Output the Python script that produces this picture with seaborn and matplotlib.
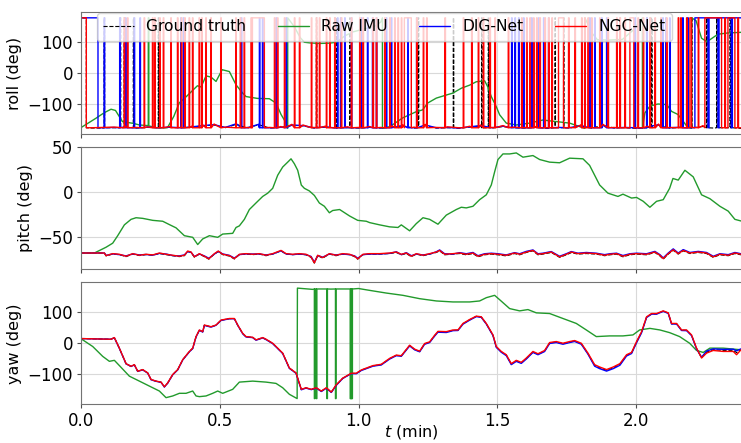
import numpy as np
import pandas as pd
import matplotlib
matplotlib.use("Agg")
import matplotlib.pyplot as plt
import seaborn as sns

# time in minutes, angles in degrees

# ---------------- roll ----------------
# floor level of the predicted / true roll (it sits near -180 and wraps to +180 often)
roll_base_t = [0.00, 0.04, 0.08, 0.12, 0.16, 0.20, 0.24, 0.28, 0.32, 0.36,
               0.40, 0.44, 0.48, 0.52, 0.56, 0.60, 0.64, 0.68, 0.72, 0.76,
               0.80, 0.84, 0.88, 0.92, 0.96, 1.00, 1.04, 1.08, 1.12, 1.16,
               1.20, 1.24, 1.28, 1.32, 1.36, 1.40, 1.44, 1.48, 1.52, 1.56,
               1.60, 1.64, 1.68, 1.72, 1.76, 1.80, 1.84, 1.88, 1.92, 1.96,
               2.00, 2.04, 2.08, 2.12, 2.16, 2.20, 2.24, 2.28, 2.32, 2.377]
roll_ngc_base = [-177, -177, -176, -175, -172, -176, -174, -177, -173, -176,
                 -172, -168, -165, -175, -161, -176, -164, -176, -173, -166,
                 -168, -176, -172, -177, -174, -176, -173, -176, -171, -168,
                 -175, -166, -176, -174, -177, -172, -168, -176, -170, -175,
                 -176, -173, -177, -174, -176, -168, -175, -166, -176, -174,
                 -177, -172, -165, -176, -173, -176, -170, -176, -174, -177]
roll_dig_base = [-177, -177, -177, -176, -174, -177, -175, -177, -175, -177,
                 -174, -170, -167, -176, -164, -177, -166, -177, -175, -168,
                 -170, -177, -174, -178, -176, -177, -175, -177, -173, -170,
                 -177, -168, -177, -176, -178, -174, -170, -177, -172, -176,
                 -177, -175, -178, -176, -177, -170, -177, -168, -177, -176,
                 -178, -174, -167, -177, -175, -177, -172, -177, -176, -178]
roll_gt_base = [-178, -178, -178, -177, -175, -178, -176, -178, -176, -178,
                -175, -171, -168, -177, -166, -178, -167, -178, -176, -169,
                -171, -178, -175, -179, -177, -178, -176, -178, -174, -171,
                -178, -169, -178, -177, -179, -175, -171, -178, -173, -177,
                -178, -176, -179, -177, -178, -171, -178, -169, -178, -177,
                -179, -175, -168, -178, -176, -178, -173, -178, -177, -179]

# instants where the angle wrapped to +180 (single samples) and longer wrapped stretches
roll_ngc_spikes = [0.156, 0.168, 0.228, 0.258, 0.266, 0.284, 0.297, 0.324, 0.348, 0.362,
                   0.374, 0.390, 0.402, 0.426, 0.435, 0.450, 0.468, 0.504, 0.558, 0.574,
                   0.588, 0.613, 0.697, 0.708, 0.733, 0.769, 0.787, 0.830, 0.848, 0.859,
                   0.884, 0.896, 0.914, 0.938, 0.974, 1.004, 1.016, 1.052, 1.064, 1.094,
                   1.112, 1.130, 1.142, 1.154, 1.209, 1.233, 1.245, 1.311, 1.377, 1.407,
                   1.431, 1.449, 1.473, 1.491, 1.539, 1.587, 1.605, 1.617, 1.630, 1.641,
                   1.653, 1.671, 1.684, 1.696, 1.756, 1.779, 1.803, 1.814, 1.826, 1.839,
                   1.868, 1.898, 1.929, 1.941, 1.959, 2.006, 2.025, 2.049, 2.067, 2.088,
                   2.109, 2.151, 2.160, 2.181, 2.223, 2.319, 2.366]
roll_ngc_blocks = [(0.0, 0.020), (0.618, 0.661), (1.165, 1.190), (1.720, 1.738),
                   (1.977, 1.991), (2.193, 2.199), (2.247, 2.307), (2.330, 2.355)]
roll_dig_spikes = [0.084, 0.140, 0.161, 0.192, 0.213, 0.360, 0.369, 0.578, 0.643, 0.654,
                   0.703, 0.739, 0.924, 0.935, 0.950, 0.974, 1.010, 1.032, 1.050, 1.064,
                   1.100, 1.118, 1.177, 1.209, 1.551, 1.563, 1.576, 1.594, 1.623, 1.648,
                   1.666, 1.684, 1.832, 1.850, 1.875, 1.893, 1.995, 2.037, 2.095, 2.106,
                   2.120, 2.167, 2.185]
roll_dig_blocks = [(0.0, 0.062), (2.211, 2.258), (2.262, 2.294), (2.298, 2.342), (2.346, 2.40)]
roll_gt_spikes = [0.084, 0.142, 0.156, 0.189, 0.279, 0.360, 0.848, 0.914, 0.921, 0.968,
                  1.215, 1.341, 1.443, 1.467, 1.707, 1.738, 1.941, 2.037, 2.049, 2.055,
                  2.199, 2.253, 2.289, 2.337, 2.343]
roll_gt_blocks = [(0.0, 0.020)]

roll_raw_t = [0.000, 0.055, 0.085, 0.109, 0.125, 0.150, 0.190, 0.211, 0.240, 0.243,
              0.2431, 0.245, 0.2451, 0.272, 0.312, 0.335, 0.355, 0.380, 0.420, 0.433,
              0.451, 0.469, 0.487, 0.509, 0.535, 0.559, 0.582, 0.595, 0.636, 0.679,
              0.703, 0.721, 0.739, 0.745, 0.7451, 0.769, 0.790, 0.805, 0.823, 0.859,
              0.895, 0.920, 0.950, 0.978, 1.029, 1.058, 1.080, 1.086, 1.0861, 1.112,
              1.159, 1.208, 1.231, 1.249, 1.280, 1.316, 1.339, 1.370, 1.400, 1.424,
              1.454, 1.465, 1.478, 1.496, 1.508, 1.532, 1.568, 1.616, 1.663, 1.712,
              1.760, 1.808, 1.815, 1.8151, 1.840, 1.860, 1.900, 1.950, 1.990, 2.022,
              2.0221, 2.031, 2.049, 2.078, 2.110, 2.127, 2.150, 2.168, 2.181, 2.199,
              2.1991, 2.215, 2.235, 2.253, 2.265, 2.294, 2.330, 2.377]
roll_raw = [-177, -146, -128, -117, -121, -157, -163, -168, -170, -170,
            179, 179, -171, -177, -177, -140, -96, -76, -41, -45,
            -9, -13, -27, 11, 5, -38, -64, -76, -82, -83,
            -97, -134, -161, -179, 179, 150, 115, 100, 98, 96,
            97, 100, 120, 133, 145, 152, 165, 179, -179, -174,
            -145, -125, -119, -97, -81, -71, -65, -49, -39, -28,
            -25, -44, -76, -109, -135, -162, -168, -162, -152, -157,
            -162, -177, -179, 179, 130, 108, 107, 109, 140, 179,
            -179, -129, -107, -100, -102, -124, -134, -155, -171, -179,
            179, 170, 113, 102, 108, 126, 130, 132]

# ---------------- pitch ----------------
pitch_t = [0.000, 0.085, 0.091, 0.115, 0.139, 0.163, 0.187, 0.211, 0.235, 0.259,
           0.283, 0.307, 0.331, 0.355, 0.373, 0.385, 0.397, 0.409, 0.427, 0.445,
           0.461, 0.481, 0.495, 0.511, 0.535, 0.553, 0.571, 0.595, 0.619, 0.643,
           0.667, 0.691, 0.721, 0.739, 0.763, 0.787, 0.811, 0.829, 0.841, 0.853,
           0.871, 0.895, 0.919, 0.943, 0.968, 0.986, 0.997, 1.016, 1.040, 1.076,
           1.112, 1.136, 1.154, 1.172, 1.190, 1.208, 1.232, 1.256, 1.280, 1.292,
           1.310, 1.340, 1.364, 1.388, 1.412, 1.430, 1.454, 1.478, 1.502, 1.532,
           1.562, 1.580, 1.604, 1.628, 1.646, 1.664, 1.694, 1.724, 1.748, 1.766,
           1.790, 1.820, 1.856, 1.886, 1.905, 1.929, 1.952, 1.977, 2.001, 2.037,
           2.067, 2.085, 2.097, 2.115, 2.133, 2.151, 2.169, 2.193, 2.223, 2.253,
           2.277, 2.301, 2.331, 2.355, 2.377]
pitch_ngc = [-67.4, -67.4, -70.3, -68.1, -68.8, -71.0, -68.1, -69.9, -68.8, -69.5,
             -67.4, -68.8, -69.9, -71.0, -69.9, -65.2, -66.3, -71.7, -68.1, -71.0,
             -73.9, -68.1, -65.2, -68.8, -70.3, -73.6, -68.8, -68.1, -68.8, -68.1,
             -69.9, -68.1, -64.5, -68.1, -68.8, -68.1, -68.8, -71.7, -78.3, -69.9,
             -72.5, -68.1, -69.9, -68.1, -68.8, -71.0, -73.9, -68.8, -68.1, -68.1,
             -67.4, -66.3, -68.8, -67.4, -71.0, -68.1, -69.9, -68.1, -66.3, -64.5,
             -68.8, -68.1, -67.4, -68.8, -67.4, -71.0, -68.8, -68.1, -68.8, -69.9,
             -67.4, -68.8, -66.3, -64.5, -68.8, -68.1, -66.3, -71.7, -68.8, -66.3,
             -68.1, -67.4, -68.1, -69.9, -68.8, -68.1, -71.0, -68.8, -68.1, -68.8,
             -66.3, -69.9, -73.6, -68.1, -63.8, -68.1, -64.5, -67.4, -66.3, -67.4,
             -71.7, -68.8, -69.9, -67.4, -68.8]
pitch_dig = [-67.4, -67.4, -70.0, -68.4, -69.2, -70.6, -68.4, -69.5, -69.0, -69.8,
             -67.8, -68.5, -70.2, -70.6, -69.5, -65.8, -66.6, -71.3, -68.5, -70.6,
             -73.2, -68.6, -65.6, -68.4, -70.0, -73.0, -69.2, -68.4, -68.5, -68.5,
             -69.5, -68.5, -65.0, -68.4, -69.2, -68.5, -69.2, -71.2, -77.5, -70.2,
             -72.0, -68.5, -69.5, -68.6, -69.2, -70.6, -73.2, -69.2, -68.6, -68.5,
             -67.8, -66.0, -69.2, -67.0, -70.4, -68.6, -69.5, -68.6, -66.0, -64.0,
             -68.2, -68.6, -67.0, -68.2, -66.8, -70.4, -68.2, -67.6, -68.2, -69.5,
             -67.0, -68.2, -65.6, -64.0, -68.2, -67.6, -65.8, -71.0, -68.2, -65.8,
             -67.6, -66.8, -67.6, -69.2, -68.2, -67.6, -70.2, -68.2, -67.6, -68.2,
             -65.6, -69.2, -72.8, -67.4, -62.8, -67.4, -63.6, -66.8, -65.6, -66.8,
             -71.0, -68.2, -69.2, -66.8, -68.2]
pitch_gt = [-67.4, -67.4, -70.6, -68.6, -69.2, -71.4, -68.6, -70.2, -69.2, -69.8,
            -68.0, -69.2, -70.4, -71.4, -70.4, -65.8, -66.8, -72.0, -68.6, -71.4,
            -74.2, -68.6, -65.8, -69.2, -70.8, -74.0, -69.2, -68.6, -69.2, -68.6,
            -70.4, -68.6, -65.0, -68.6, -69.2, -68.6, -69.4, -72.2, -78.6, -70.4,
            -73.0, -68.6, -70.4, -68.6, -69.2, -71.4, -74.2, -69.2, -68.6, -68.6,
            -68.0, -66.8, -69.4, -68.0, -71.4, -68.6, -70.4, -68.6, -66.8, -65.0,
            -69.4, -68.6, -68.0, -69.4, -68.0, -71.6, -69.4, -68.6, -69.4, -70.6,
            -68.0, -69.4, -66.8, -65.0, -69.4, -68.6, -66.8, -72.2, -69.4, -67.0,
            -68.6, -68.0, -68.6, -70.4, -69.4, -68.6, -71.6, -69.4, -68.6, -69.4,
            -66.8, -70.6, -74.2, -68.6, -64.4, -68.6, -65.0, -68.0, -66.8, -68.0,
            -72.2, -69.4, -70.4, -68.0, -69.4]

pitch_raw_t = [0.000, 0.049, 0.091, 0.115, 0.133, 0.157, 0.181, 0.199, 0.223, 0.259,
               0.295, 0.319, 0.343, 0.373, 0.403, 0.421, 0.439, 0.463, 0.493, 0.511,
               0.547, 0.559, 0.571, 0.589, 0.607, 0.631, 0.655, 0.673, 0.691, 0.709,
               0.727, 0.745, 0.757, 0.769, 0.781, 0.794, 0.805, 0.823, 0.841, 0.859,
               0.877, 0.895, 0.907, 0.932, 0.950, 0.968, 0.997, 1.028, 1.040, 1.076,
               1.112, 1.142, 1.154, 1.184, 1.208, 1.232, 1.256, 1.286, 1.316, 1.352,
               1.370, 1.388, 1.412, 1.436, 1.460, 1.478, 1.490, 1.502, 1.520, 1.544,
               1.568, 1.592, 1.628, 1.652, 1.688, 1.724, 1.760, 1.808, 1.832, 1.868,
               1.898, 1.934, 1.952, 1.983, 2.001, 2.025, 2.049, 2.073, 2.097, 2.120,
               2.132, 2.151, 2.175, 2.205, 2.235, 2.265, 2.301, 2.331, 2.355, 2.377]
pitch_raw = [-67.4, -67.4, -61.0, -56.5, -48.2, -36.2, -30.1, -28.3, -29.0, -31.2,
             -32.2, -35.9, -39.5, -48.2, -50.0, -58.0, -51.8, -48.2, -50.0, -46.4,
             -45.6, -39.1, -37.3, -30.1, -19.2, -11.9, -4.7, -1.1, 4.3, 18.8,
             27.9, 33.3, 37.0, 31.5, 24.3, 7.9, 4.3, 1.4, -3.6, -12.0,
             -15.6, -22.8, -20.3, -19.2, -22.8, -26.4, -31.2, -32.2, -33.7, -36.2,
             -38.4, -39.1, -36.2, -42.8, -34.8, -28.3, -30.1, -35.5, -25.4, -19.2,
             -16.7, -17.4, -15.6, -8.3, -2.9, 8.0, 22.5, 36.2, 42.4, 42.4,
             43.5, 38.8, 40.6, 36.2, 33.3, 32.6, 37.7, 37.0, 29.7, 8.0,
             -1.1, -4.7, -2.2, -6.5, -5.8, -10.1, -16.7, -10.1, -8.3, 4.3,
             15.2, 13.4, 24.3, 17.0, -2.9, -7.2, -15.6, -21.0, -30.1, -31.9]

# ---------------- yaw ----------------
yaw_t = [0.000, 0.109, 0.121, 0.139, 0.163, 0.181, 0.193, 0.205, 0.223, 0.241,
         0.253, 0.271, 0.289, 0.301, 0.313, 0.331, 0.349, 0.367, 0.391, 0.403,
         0.415, 0.427, 0.439, 0.445, 0.469, 0.487, 0.505, 0.535, 0.553, 0.565,
         0.583, 0.595, 0.619, 0.631, 0.655, 0.667, 0.691, 0.709, 0.727, 0.751,
         0.775, 0.794, 0.811, 0.830, 0.848, 0.866, 0.884, 0.902, 0.920, 0.943,
         0.974, 0.992, 1.010, 1.052, 1.082, 1.112, 1.136, 1.154, 1.184, 1.202,
         1.220, 1.238, 1.256, 1.274, 1.286, 1.316, 1.340, 1.358, 1.376, 1.400,
         1.424, 1.442, 1.460, 1.484, 1.496, 1.514, 1.532, 1.550, 1.568, 1.586,
         1.604, 1.628, 1.646, 1.670, 1.688, 1.712, 1.736, 1.760, 1.778, 1.802,
         1.826, 1.850, 1.868, 1.893, 1.917, 1.941, 1.965, 1.983, 2.001, 2.019,
         2.037, 2.055, 2.073, 2.097, 2.115, 2.127, 2.145, 2.163, 2.181, 2.199,
         2.217, 2.235, 2.253, 2.277, 2.313, 2.349, 2.361, 2.377]
yaw_ngc = [15.4, 13.2, 18.6, -15.6, -65.8, -74.4, -69.0, -90.4, -85.0, -95.8,
           -117.0, -122.4, -125.6, -140.7, -127.9, -101.0, -85.0, -52.9, -26.3, -15.6,
           21.8, 43.3, 37.8, 59.3, 53.8, 59.3, 75.3, 80.4, 80.4, 59.3,
           32.4, 21.8, 19.6, 11.2, 18.6, 13.2, 0.3, -15.6, -31.7, -79.8,
           -95.8, -149.0, -143.9, -149.0, -143.9, -154.5, -143.9, -157.7, -134.3, -112.8,
           -96.8, -96.8, -86.2, -72.1, -67.9, -48.7, -38.1, -40.1, -6.1, -18.9,
           -25.3, -0.6, 4.8, 26.0, 38.8, 37.8, 43.3, 43.3, 64.4, 77.2,
           88.1, 85.9, 64.4, 27.2, -10.3, -26.3, -36.9, -65.8, -55.1, -61.5,
           -47.6, -26.3, -33.8, -23.1, 2.6, 5.8, 0.3, 5.8, 9.0, 0.3,
           -31.7, -69.0, -76.6, -85.0, -76.6, -65.8, -36.9, -29.5, 5.8, 37.8,
           85.9, 96.5, 96.5, 105.1, 98.7, 64.4, 64.4, 43.3, 43.3, 27.2,
           -15.6, -47.6, -31.7, -23.1, -26.3, -26.3, -36.9, -20.9]
yaw_dig = [15.4, 13.2, 18.0, -16.5, -66.5, -75.0, -70.0, -91.0, -86.0, -96.5,
           -118.0, -123.0, -126.5, -141.5, -129.0, -102.0, -86.0, -54.0, -27.5, -17.0,
           20.5, 42.0, 36.5, 58.0, 52.5, 58.5, 74.0, 79.5, 79.5, 58.5,
           31.0, 20.5, 18.5, 10.0, 17.5, 12.0, -1.0, -17.0, -33.0, -81.0,
           -97.0, -150.5, -145.0, -150.0, -145.0, -156.0, -145.5, -159.0, -136.0, -114.0,
           -98.0, -98.5, -88.0, -74.0, -70.0, -51.0, -40.0, -42.0, -8.5, -21.0,
           -27.5, -3.0, 2.5, 23.5, 36.0, 35.0, 41.0, 41.5, 62.0, 75.0,
           86.5, 84.0, 62.5, 25.0, -13.0, -29.0, -40.0, -69.0, -58.5, -65.0,
           -51.0, -29.5, -37.0, -26.5, -0.5, 2.5, -3.0, 2.5, 6.0, -3.0,
           -35.0, -74.0, -82.0, -90.0, -82.0, -71.0, -41.0, -33.0, 2.0, 34.0,
           83.5, 94.5, 94.5, 103.5, 97.0, 62.5, 62.5, 41.5, 41.0, 25.0,
           -18.0, -45.0, -25.0, -18.0, -19.5, -19.0, -24.0, -18.0]
yaw_gt = [15.4, 13.2, 18.3, -16.0, -66.0, -74.8, -69.5, -90.8, -85.5, -96.0,
          -117.5, -122.8, -126.0, -141.0, -128.5, -101.5, -85.5, -53.5, -27.0, -16.2,
          21.0, 42.8, 37.2, 58.8, 53.2, 58.8, 74.8, 80.0, 80.0, 58.8,
          31.8, 21.2, 19.0, 10.6, 18.0, 12.6, -0.3, -16.2, -32.3, -80.4,
          -96.4, -149.6, -144.5, -149.6, -144.5, -155.2, -144.6, -158.3, -135.0, -113.4,
          -97.4, -97.6, -87.0, -73.0, -69.0, -49.8, -39.0, -41.0, -7.2, -20.0,
          -26.4, -1.8, 3.6, 24.8, 37.4, 36.4, 42.2, 42.4, 63.2, 76.0,
          87.2, 85.0, 63.4, 26.2, -11.6, -27.6, -38.4, -67.4, -56.8, -63.2,
          -49.2, -28.0, -35.4, -24.8, 1.0, 4.2, -1.4, 4.2, 7.6, -1.4,
          -33.4, -71.5, -79.3, -87.5, -79.3, -68.4, -39.0, -31.2, 4.0, 36.0,
          84.6, 95.4, 95.4, 104.2, 97.8, 63.4, 63.4, 42.4, 42.2, 26.2,
          -16.8, -46.4, -28.4, -20.5, -22.8, -22.5, -30.0, -19.5]

yaw_raw_t = [0.000, 0.043, 0.079, 0.103, 0.121, 0.139, 0.175, 0.211, 0.247, 0.283,
             0.307, 0.331, 0.355, 0.379, 0.403, 0.415, 0.427, 0.451, 0.475, 0.493,
             0.511, 0.547, 0.571, 0.619, 0.667, 0.703, 0.727, 0.751, 0.779, 0.780,
             0.835, 0.900, 0.960, 1.000, 1.040, 1.100, 1.160, 1.220, 1.280, 1.340,
             1.400, 1.436, 1.460, 1.490, 1.508, 1.544, 1.580, 1.610, 1.640, 1.688,
             1.736, 1.784, 1.820, 1.856, 1.904, 1.952, 1.988, 2.012, 2.049, 2.085,
             2.120, 2.156, 2.192, 2.217, 2.241, 2.265, 2.313, 2.377]
yaw_raw = [15.4, -10.3, -42.3, -58.3, -55.1, -72.1, -106.4, -122.4, -138.5, -154.5,
           -176.0, -170.5, -161.9, -161.9, -154.5, -170.5, -172.7, -170.5, -161.9, -154.5,
           -161.9, -149.0, -125.6, -122.4, -125.6, -129.8, -143.9, -165.1, -179.0, 178.8,
           174.7, 175.6, 176.0, 177.5, 171.5, 162.8, 155.4, 144.6, 137.2, 134.0,
           134.0, 137.2, 147.8, 155.4, 141.3, 112.5, 105.1, 109.3, 98.7, 96.5,
           80.4, 64.4, 43.3, 21.8, 24.0, 24.0, 27.2, 43.3, 48.4, 43.3,
           34.6, 21.8, 0.3, -23.1, -29.5, -15.6, -15.6, -20.9]
# raw yaw briefly wraps back to -180 at these instants
yaw_raw_dips = [0.841, 0.848, 0.886, 0.917, 0.970, 0.973, 0.976]

series_names = ["Ground truth", "Raw IMU", "DIG-Net", "NGC-Net"]
colors = {"Ground truth": "black", "Raw IMU": "#229a2c", "DIG-Net": "#0000ff", "NGC-Net": "#ff0000"}


def wrapped(base_t, base_v, spikes, blocks, floor=-177, top=179, w=0.002):
    # roll sitting near -180 that jumps to +180 during the listed spans
    spans = [(s, s + w) for s in spikes] + list(blocks)
    pts = [(t, v) for t, v in zip(base_t, base_v)
           if not any(a - 1e-9 <= t <= b + 1e-9 for a, b in spans)]
    for a, b in spans:
        pts += [(a, floor), (a + 1e-6, top), (b - 1e-6, top), (b, floor)]
    pts.sort(key=lambda p: p[0])
    return pd.DataFrame(pts, columns=["t", "deg"])


def dipped(t, v, dips, high=176, low=-179, w=0.002):
    pts = list(zip(t, v))
    for d in dips:
        pts += [(d, high), (d + 1e-6, low), (d + w - 1e-6, low), (d + w, high)]
    pts.sort(key=lambda p: p[0])
    return pd.DataFrame(pts, columns=["t", "deg"])


def frame(t, v):
    assert len(t) == len(v)
    return pd.DataFrame({"t": t, "deg": v})


roll = {"Ground truth": wrapped(roll_base_t, roll_gt_base, roll_gt_spikes, roll_gt_blocks),
        "Raw IMU": frame(roll_raw_t, roll_raw),
        "DIG-Net": wrapped(roll_base_t, roll_dig_base, roll_dig_spikes, roll_dig_blocks),
        "NGC-Net": wrapped(roll_base_t, roll_ngc_base, roll_ngc_spikes, roll_ngc_blocks)}
pitch = {"Ground truth": frame(pitch_t, pitch_gt),
         "Raw IMU": frame(pitch_raw_t, pitch_raw),
         "DIG-Net": frame(pitch_t, pitch_dig),
         "NGC-Net": frame(pitch_t, pitch_ngc)}
yaw = {"Ground truth": frame(yaw_t, yaw_gt),
       "Raw IMU": dipped(yaw_raw_t, yaw_raw, yaw_raw_dips),
       "DIG-Net": frame(yaw_t, yaw_dig),
       "NGC-Net": frame(yaw_t, yaw_ngc)}

sns.set_style("whitegrid", {"axes.edgecolor": "0.45", "grid.color": "0.85",
                            "xtick.bottom": True, "ytick.left": True,
                            "xtick.color": "0.3", "ytick.color": "0.3"})
plt.rcParams["font.family"] = ["DejaVu Sans"]
plt.rcParams["text.color"] = "black"
plt.rcParams["axes.labelcolor"] = "black"

fig, axes = plt.subplots(3, 1, sharex=True, figsize=(7.41, 4.43), dpi=100)
fig.subplots_adjust(left=0.109, right=1.0, top=0.973, bottom=0.087, hspace=0.105)

panels = [(roll, "roll (deg)", (-198, 198), [-100, 0, 100]),
          (pitch, "pitch (deg)", (-85.5, 50), [-50, 0, 50]),
          (yaw, "yaw (deg)", (-198, 198), [-100, 0, 100])]

for i, (ax, (data, ylab, ylim, yticks)) in enumerate(zip(axes, panels)):
    for name in series_names:
        kw = dict(color=colors[name], lw=1.0)
        if name == "Ground truth":
            kw.update(lw=0.8, linestyle="--")
        if i == 0:
            kw["label"] = name
        sns.lineplot(data=data[name], x="t", y="deg", ax=ax,
                     estimator=None, sort=False, **kw)
    ax.set_ylim(*ylim)
    ax.set_yticks(yticks)
    ax.set_ylabel(ylab, fontsize=11.5)
    ax.set_xlabel("")
    ax.spines["right"].set_visible(False)
    ax.tick_params(labelsize=12, length=3, width=0.8, labelcolor="black", pad=2.5)
    if ax.get_legend() is not None:
        ax.get_legend().remove()

axes[-1].set_xlim(0, 2.377)
axes[-1].set_xticks([0.0, 0.5, 1.0, 1.5, 2.0])
axes[-1].set_xlabel("$t$ (min)", fontsize=11.5, labelpad=-5)

axes[0].legend(loc="upper left", bbox_to_anchor=(0.024, 0.99), ncol=4, fontsize=11.2,
               borderaxespad=0, framealpha=0.8)

fig.savefig("out.png", dpi=100)
